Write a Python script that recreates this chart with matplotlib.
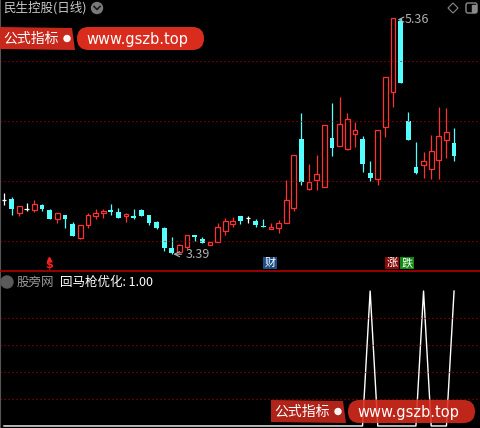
import numpy as np
import matplotlib.pyplot as plt
from matplotlib.patches import FancyBboxPatch, Circle, Polygon, Rectangle

plt.rcParams['font.family'] = ['Noto Sans CJK SC', 'DejaVu Sans']

# daily K-line
opens = [3.842, 3.85, 3.736, 3.767, 3.761, 3.80, 3.758, 3.683, 3.717, 3.644,
         3.528, 3.636, 3.711, 3.733, 3.758, 3.742, 3.708, 3.708, 3.758, 3.717,
         3.658, 3.608, 3.442, 3.408, 3.453, 3.55, 3.517, 3.464, 3.492, 3.586,
         3.644, 3.708, 3.694, 3.667, 3.622, 3.597, 3.606, 3.647, 3.772, 4.35,
         3.936, 4.011, 3.953, 4.358, 4.294, 4.269, 4.389, 4.35, 4.067, 4.014,
         4.447, 4.739, 5.333, 4.50, 4.117, 4.136, 4.103, 4.172, 4.339, 4.314]
closes = [3.842, 3.767, 3.792, 3.767, 3.808, 3.767, 3.683, 3.733, 3.683, 3.544,
          3.633, 3.717, 3.733, 3.75, 3.742, 3.694, 3.725, 3.694, 3.711, 3.653,
          3.611, 3.444, 3.397, 3.467, 3.547, 3.533, 3.483, 3.492, 3.617, 3.667,
          3.667, 3.669, 3.694, 3.633, 3.617, 3.617, 3.65, 3.842, 4.214, 3.994,
          3.992, 4.058, 4.467, 4.275, 4.475, 4.517, 4.422, 4.144, 4.028, 4.422,
          4.864, 5.356, 4.819, 4.344, 4.067, 4.167, 4.247, 4.372, 4.406, 4.211]
highs = [3.902, 3.864, 3.792, 3.817, 3.842, 3.81, 3.767, 3.733, 3.717, 3.658,
         3.633, 3.733, 3.767, 3.767, 3.808, 3.775, 3.731, 3.767, 3.769, 3.717,
         3.667, 3.617, 3.533, 3.475, 3.547, 3.55, 3.533, 3.492, 3.65, 3.692,
         3.70, 3.708, 3.708, 3.683, 3.683, 3.65, 3.675, 4.008, 4.214, 4.567,
         4.142, 4.217, 4.467, 4.65, 4.70, 4.567, 4.492, 4.372, 4.167, 4.422,
         4.864, 5.36, 5.36, 4.575, 4.325, 4.242, 4.383, 4.617, 4.608, 4.439]
lows = [3.80, 3.719, 3.711, 3.753, 3.744, 3.75, 3.683, 3.653, 3.611, 3.544,
        3.519, 3.611, 3.683, 3.694, 3.719, 3.694, 3.661, 3.683, 3.705, 3.636,
        3.60, 3.419, 3.39, 3.397, 3.433, 3.50, 3.483, 3.464, 3.492, 3.55,
        3.617, 3.644, 3.65, 3.617, 3.617, 3.597, 3.569, 3.647, 3.753, 3.967,
        3.925, 3.928, 3.95, 4.208, 4.294, 4.258, 4.281, 4.075, 4.0, 3.964,
        4.364, 4.619, 4.819, 4.344, 4.061, 4.028, 4.019, 4.019, 4.194, 4.169]

# 回马枪优化 signal
signal = [0] * 60
for k in (48, 55, 59):
    signal[k] = 1

price_grid = [3.5, 4.0, 4.5, 5.0]
signal_grid = [0.2, 0.4, 0.6, 0.8]
low_idx, low_val = 22, 3.39
high_idx, high_val = 52, 5.36
dollar_idx, cai_idx, zhang_idx, die_idx = 6, 35, 51, 53

UP = '#FF3232'
DOWN = '#54FFFF'
GRID = '#B00000'
W = 0.62

fig = plt.figure(figsize=(4.8, 4.28), dpi=100, facecolor='black')
ax = fig.add_axes([0, 157 / 428, 1, 271 / 428], facecolor='black')
ax2 = fig.add_axes([0, 0, 1, 156 / 428], facecolor='black')

x = np.arange(len(opens))
for i in x:
    o, c, h, l = opens[i], closes[i], highs[i], lows[i]
    if c > o:
        ax.vlines(i, c, h, color=UP, lw=0.9)
        ax.vlines(i, l, o, color=UP, lw=0.9)
        ax.bar(i, c - o, bottom=o, width=W, facecolor='black', edgecolor=UP, lw=0.9)
    elif c < o:
        ax.vlines(i, l, h, color=DOWN, lw=0.9)
        ax.bar(i, o - c, bottom=c, width=W, color=DOWN, lw=0)
    else:
        ax.vlines(i, l, h, color='white', lw=0.9)
        ax.hlines(o, i - W / 2, i + W / 2, color='white', lw=0.9)

for g in price_grid:
    ax.axhline(g, color=GRID, lw=0.8, linestyle=(0, (1, 2.6)))

ax.set_xlim(-0.52, 62.4)
ax.set_ylim(3.25, 5.508)
ax.set_xticks([])
ax.set_yticks([])
for s in ['top', 'right']:
    ax.spines[s].set_visible(False)
ax.spines['left'].set_color('#555555')
ax.spines['bottom'].set_color('#B00000')
ax.spines['bottom'].set_linewidth(1.2)

# price annotations
ax.annotate('3.39', xy=(low_idx + 0.2, low_val), xytext=(9, 0), textcoords='offset points',
            color='#B0B0B0', fontsize=9, va='center', ha='left',
            arrowprops=dict(arrowstyle='->', color='#B0B0B0', lw=0.8, shrinkA=1, shrinkB=0))
ax.annotate('5.36', xy=(high_idx - 0.4, high_val - 0.015), xytext=(5, 0), textcoords='offset points',
            color='#B0B0B0', fontsize=9, va='center', ha='left',
            arrowprops=dict(arrowstyle='->', color='#B0B0B0', lw=0.8, shrinkA=1, shrinkB=0))

# small signal markers at the bottom of the price pane
ax.text(dollar_idx - 0.15, 3.30, '$', color='#FF2020', fontsize=8, fontweight='bold',
        ha='center', va='center', family='DejaVu Sans')
ax.plot([dollar_idx - 0.15], [3.352], marker='^', color='#FF2020', ms=3)
ax.text(cai_idx - 0.15, 3.317, '财', color='white', fontsize=8, ha='center', va='center',
        bbox=dict(boxstyle='square,pad=0.12', fc='#1D4E86', ec='none'))
ax.text(zhang_idx - 0.15, 3.317, '涨', color='white', fontsize=8, ha='center', va='center',
        bbox=dict(boxstyle='square,pad=0.12', fc='#8A0A0A', ec='none'))
ax.text(die_idx - 0.2, 3.317, '跌', color='white', fontsize=8, ha='center', va='center',
        bbox=dict(boxstyle='square,pad=0.12', fc='#128A12', ec='none'))

# indicator pane
ax2.plot(x, signal, color='white', lw=1)
for g in signal_grid:
    ax2.axhline(g, color=GRID, lw=0.8, linestyle=(0, (1, 2.6)))
ax2.set_xlim(-0.52, 62.4)
ax2.set_ylim(-0.015, 1.141)
ax2.set_xticks([])
ax2.set_yticks([])
for s in ['top', 'right', 'bottom']:
    ax2.spines[s].set_visible(False)
ax2.spines['left'].set_color('#555555')

# overlay in pixel coordinates for headers and watermarks
ov = fig.add_axes([0, 0, 1, 1], facecolor='none')
ov.set_xlim(0, 480)
ov.set_ylim(428, 0)
ov.axis('off')

ov.text(3, 8, '民生控股(日线)', color='#C8C8C8', fontsize=9, va='center', ha='left')
ov.add_patch(Circle((97, 8), 5.5, color='#7A7A7A'))
ov.plot([94, 97, 100], [6.5, 9.5, 6.5], color='#1A1A1A', lw=1.2)

ov.add_patch(Polygon([[448, 8], [453, 3], [458, 8], [453, 13]], closed=True,
                     fill=False, ec='#8A8A8A', lw=0.8))
ov.add_patch(FancyBboxPatch((466, 3), 11, 10, boxstyle='round,pad=0,rounding_size=2',
                            fill=False, ec='#8A8A8A', lw=1))
ov.add_patch(Rectangle((472, 4.5), 3.5, 7, color='#8A8A8A'))

ov.add_patch(Circle((7, 282), 6, color='#5A5A5A'))
ov.text(17, 282, '股旁网', color='#9A9A9A', fontsize=9, va='center', ha='left')
ov.text(60, 282, '回马枪优化: 1.00', color='white', fontsize=9, va='center', ha='left')


def watermark(x0, y0, alpha):
    ov.add_patch(Polygon([[x0, y0], [x0 + 72, y0 + 1], [x0 + 75, y0 + 23], [x0, y0 + 22]],
                         closed=True, color='#C8281C', alpha=alpha, lw=0))
    ov.add_patch(FancyBboxPatch((x0 + 77, y0), 127, 23, boxstyle='round,pad=0,rounding_size=11.5',
                                color='#D92C1C', alpha=alpha, lw=0))
    ov.add_patch(Circle((x0 + 67, y0 + 11.5), 3, color='white', alpha=0.95))
    ov.text(x0 + 3, y0 + 11.5, '公式指标', color='white', fontsize=10, va='center', ha='left')
    ov.text(x0 + 86, y0 + 12, 'www.gszb.top', color='white', fontsize=10.5, va='center',
            ha='left', family='DejaVu Sans')


watermark(0, 27, 1.0)
watermark(271, 400, 0.88)

fig.savefig('out.png', dpi=100, facecolor='black')
